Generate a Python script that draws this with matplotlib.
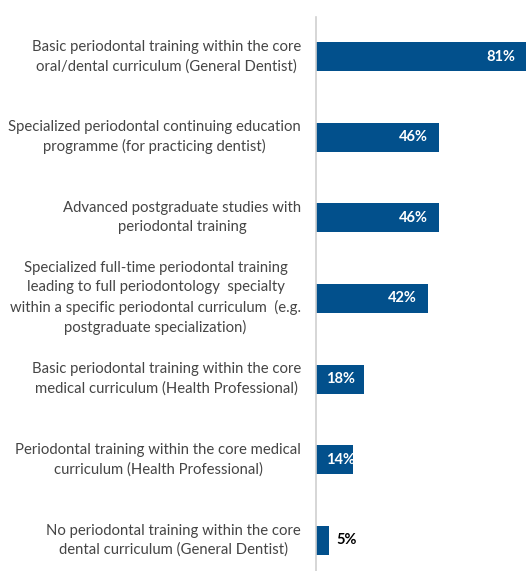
import matplotlib.pyplot as plt
import matplotlib.transforms as mtransforms

# Survey answers (top to bottom) and share of respondents in %
labels = [
    "Basic periodontal training within the core\noral/dental curriculum (General Dentist)",
    "Specialized periodontal continuing education\nprogramme (for practicing dentist)",
    "Advanced postgraduate studies with\nperiodontal training",
    "Specialized full-time periodontal training\nleading to full periodontology  specialty\n"
    "within a specific periodontal curriculum  (e.g.\npostgraduate specialization)",
    "Basic periodontal training within the core\nmedical curriculum (Health Professional)",
    "Periodontal training within the core medical\ncurriculum (Health Professional)",
    "No periodontal training within the core\ndental curriculum (General Dentist)",
]
values = [81, 46, 46, 42, 18, 14, 5]

bar_color = "#02508C"
text_color = "#454545"
font = ["Lato", "DejaVu Sans"]

W, H = 526, 571
fig = plt.figure(figsize=(W / 100, H / 100), dpi=100)
ax = fig.add_axes([316 / W, 0, 1 - 316 / W, 1 - 17 / H])

pos = list(range(len(values)))
ax.barh(pos, values, height=0.36, color=bar_color)
ax.set_xlim(0, 78.7)
ax.set_ylim(6.38, -0.49)

for s in ["top", "right", "bottom"]:
    ax.spines[s].set_visible(False)
ax.spines["left"].set_color("#d0d0d0")
ax.spines["left"].set_linewidth(1.2)
ax.set_xticks([])
ax.set_yticks([])

# category labels: block right-aligned next to the axis, lines centred
trans = mtransforms.blended_transform_factory(fig.transFigure, ax.transData)
for p, lab in zip(pos, labels):
    ax.text(301 / W, p, lab, transform=trans, ha="right", va="center",
            multialignment="center", fontsize=10.7, color=text_color,
            family=font, linespacing=1.45)

# value labels: inside end for long bars, inside base for short ones,
# outside when the bar is too short
for p, v in zip(pos, values):
    if v >= 30:
        ax.annotate(f"{v}%", (min(v, 78.7), p), xytext=(-8, 0),
                    textcoords="offset points", ha="right", va="center",
                    color="white", fontsize=10.5, fontweight="bold", family=font)
    elif v >= 10:
        ax.annotate(f"{v}%", (0, p), xytext=(7.2, 0),
                    textcoords="offset points", ha="left", va="center",
                    color="white", fontsize=10.5, fontweight="bold", family=font)
    else:
        ax.annotate(f"{v}%", (v, p), xytext=(5, 0),
                    textcoords="offset points", ha="left", va="center",
                    color="black", fontsize=10.5, fontweight="bold", family=font)

fig.savefig("out.png", dpi=100)
